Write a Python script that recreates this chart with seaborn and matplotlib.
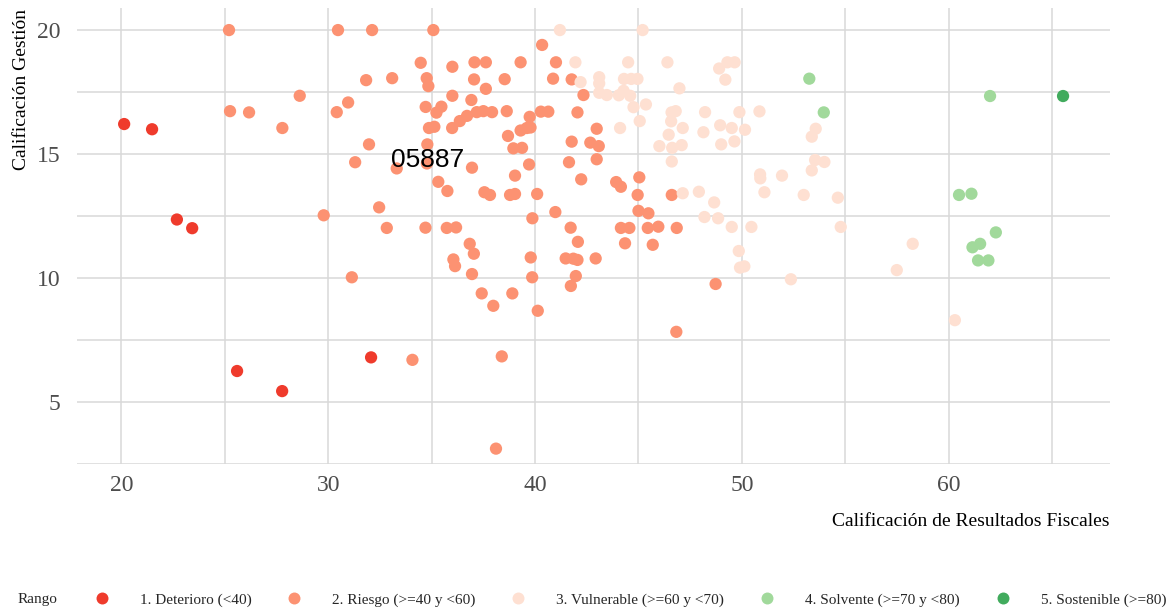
import pandas as pd
import numpy as np
import matplotlib
matplotlib.use("Agg")
import matplotlib.pyplot as plt
from matplotlib.lines import Line2D
import seaborn as sns

# --- data ---
rangos = ["1. Deterioro (<40)", "2. Riesgo (>=40 y <60)", "3. Vulnerable (>=60 y <70)",
          "4. Solvente (>=70 y <80)", "5. Sostenible (>=80)"]
colores = ["#EF3B2C", "#FC9272", "#FEE0D2", "#A1D99B", "#41AB5D"]

det_x = [20.13, 21.48, 22.68, 23.42, 25.59, 27.77, 32.07]
det_y = [16.21, 16.0, 12.36, 12.01, 6.25, 5.44, 6.8]

rie_x = [25.2, 30.47, 32.12, 35.08, 40.34, 31.83, 33.09, 34.47, 36.0, 37.07, 37.62, 39.3,
         41.01, 34.76, 34.84, 37.05, 38.53, 37.62, 40.87, 41.77, 42.34, 28.62, 25.25, 26.17,
         30.41, 30.96, 27.78, 34.71, 35.23, 35.47, 36.0, 36.92, 35.99, 34.87, 35.13, 36.36,
         36.71, 37.18, 37.5, 37.92, 38.63, 31.97, 34.79, 38.69, 38.95, 39.37, 39.3, 39.6,
         39.78, 39.74, 40.28, 40.64, 42.05, 42.98, 41.77, 42.67, 43.08, 42.98, 41.64, 42.23,
         39.71, 36.95, 39.03, 31.3, 33.31, 34.77, 35.32, 35.76, 29.78, 32.46, 32.83, 34.7,
         35.73, 36.18, 36.84, 37.04, 36.05, 36.13, 36.95, 31.14, 37.42, 38.9, 37.55, 37.82,
         38.79, 39.03, 40.1, 39.87, 40.98, 41.72, 42.07, 39.79, 41.48, 41.85, 42.05, 42.93,
         39.86, 41.97, 41.73, 45.04, 43.92, 44.15, 44.96, 46.61, 45.0, 45.48, 44.15, 44.56,
         45.45, 45.96, 46.85, 44.35, 45.69, 48.73, 46.83, 37.98, 40.13, 38.39, 38.11, 34.07]
rie_y = [20.0, 20.0, 20.0, 20.0, 19.4, 17.98, 18.06, 18.68, 18.52, 18.7, 18.7, 18.7,
         18.7, 18.06, 17.74, 18.01, 18.02, 17.63, 18.04, 18.01, 17.38, 17.35, 16.73, 16.68,
         16.69, 17.08, 16.05, 16.9, 16.67, 16.91, 17.35, 17.18, 16.05, 16.05, 16.1, 16.33,
         16.54, 16.69, 16.73, 16.69, 16.73, 15.39, 15.39, 15.73, 15.23, 15.25, 15.95, 16.05,
         16.07, 16.5, 16.71, 16.71, 16.68, 16.02, 15.5, 15.46, 15.32, 14.79, 14.67, 13.98,
         14.58, 14.45, 14.13, 14.67, 14.42, 14.62, 13.88, 13.51, 12.53, 12.85, 12.02, 12.03,
         12.02, 12.04, 11.38, 10.98, 10.75, 10.48, 10.16, 10.03, 9.38, 9.38, 13.46, 13.35,
         13.35, 13.39, 13.39, 12.41, 12.66, 12.03, 11.46, 10.83, 10.79, 10.78, 10.73, 10.79,
         10.03, 10.08, 9.68, 14.06, 13.87, 13.68, 13.35, 13.35, 12.71, 12.61, 12.02, 12.02,
         12.02, 12.07, 12.02, 11.4, 11.34, 9.76, 7.83, 8.88, 8.68, 6.84, 3.12, 6.7]

vul_x = [41.2, 45.2, 41.95, 44.5, 46.4, 48.9, 49.3, 49.65, 49.2, 42.2, 43.1, 43.1, 44.3,
         44.65, 44.95, 43.1, 43.47, 44.05, 44.28, 44.6, 46.98, 44.76, 45.36, 45.06, 44.11,
         46.6, 46.8, 46.58, 48.22, 49.88, 50.85, 47.14, 46.46, 46.01, 46.63, 47.09, 46.61,
         48.14, 48.95, 49.51, 50.15, 49.0, 49.64, 53.57, 53.38, 53.54, 53.99, 53.38, 50.88,
         50.89, 51.94, 51.09, 52.99, 54.64, 47.14, 47.92, 48.66, 48.19, 48.85, 49.51, 50.46,
         54.78, 49.85, 49.91, 50.12, 52.37, 58.26, 57.49, 60.3]
vul_y = [20.0, 20.0, 18.7, 18.7, 18.7, 18.45, 18.7, 18.7, 18.0, 17.9, 18.1, 17.85, 18.03,
         18.03, 18.03, 17.47, 17.38, 17.37, 17.55, 17.35, 17.65, 16.89, 17.0, 16.33, 16.05,
         16.68, 16.73, 16.32, 16.69, 16.69, 16.72, 16.05, 15.78, 15.32, 15.25, 15.36, 14.7,
         15.88, 16.16, 16.05, 15.98, 15.39, 15.51, 16.02, 15.7, 14.76, 14.68, 14.34, 14.18,
         14.02, 14.13, 13.46, 13.35, 13.24, 13.42, 13.48, 13.05, 12.46, 12.41, 12.06, 12.06,
         12.06, 11.09, 10.42, 10.47, 9.95, 11.38, 10.32, 8.3]

sol_x = [53.26, 53.96, 62.0, 60.5, 61.1, 62.28, 61.52, 61.15, 61.42, 61.92]
sol_y = [18.04, 16.68, 17.34, 13.35, 13.4, 11.84, 11.38, 11.24, 10.71, 10.71]

sos_x = [65.53]
sos_y = [17.34]

etiqueta = "05887"
etiqueta_x, etiqueta_y = 34.8, 14.78

grupos = [(det_x, det_y), (rie_x, rie_y), (vul_x, vul_y), (sol_x, sol_y), (sos_x, sos_y)]
df = pd.concat([pd.DataFrame({"x": gx, "y": gy, "Rango": r}) for (gx, gy), r in zip(grupos, rangos)],
               ignore_index=True)

sns.set_style("white")
plt.rcParams["font.family"] = ["Liberation Serif", "DejaVu Serif"]

fig = plt.figure(figsize=(11.74, 6.11), dpi=100)
ax = fig.add_axes([77 / 1174, 1 - 464 / 611, (1110 - 77) / 1174, (464 - 8) / 611])

sns.scatterplot(data=df, x="x", y="y", hue="Rango", hue_order=rangos,
                palette=dict(zip(rangos, colores)), s=78, linewidth=0, alpha=1,
                legend=False, ax=ax, zorder=3)

ax.text(etiqueta_x, etiqueta_y, etiqueta, fontsize=19, family="Liberation Sans",
        ha="center", va="center", color="black", zorder=4)

ax.set_xlim(17.85, 67.8)
ax.set_ylim(2.5, 20.89)
ax.set_xticks([20, 30, 40, 50, 60])
ax.set_xticks([25, 35, 45, 55, 65], minor=True)
ax.set_yticks([5, 10, 15, 20])
ax.set_yticks([2.5, 7.5, 12.5, 17.5], minor=True)
ax.grid(which="both", color="#D9D9D9", linewidth=1.1)
ax.set_axisbelow(True)
for s in ax.spines.values():
    s.set_visible(False)
ax.tick_params(axis="both", which="both", length=0, labelsize=17, labelcolor="#4D4D4D")
ax.tick_params(axis="y", pad=12)
ax.tick_params(axis="x", pad=8)
ax.set_xlabel("")
ax.set_ylabel("")

fig.text(22 / 1174, 1 - 9 / 611, "Calificación Gestión", rotation=90, ha="center", va="top",
         fontsize=14, color="black")
fig.text(1110 / 1174, 1 - 522 / 611, "Calificación de Resultados Fiscales", ha="right",
         va="center", fontsize=14, color="black")

# legend at the bottom
fig.text(18 / 1174, 1 - 600 / 611, "Rango", ha="left", va="center", fontsize=11)
handles = [Line2D([0], [0], marker="o", linestyle="", markersize=8.6, markerfacecolor=c,
                  markeredgewidth=0) for c in colores]
fig.legend(handles, rangos, loc="center left", bbox_to_anchor=(94 / 1174, 1 - 600 / 611),
           ncol=5, frameon=False, fontsize=11, handlelength=1.0, handletextpad=1.99,
           columnspacing=2.3, borderpad=0, borderaxespad=0)

fig.savefig("out.png", dpi=100)
